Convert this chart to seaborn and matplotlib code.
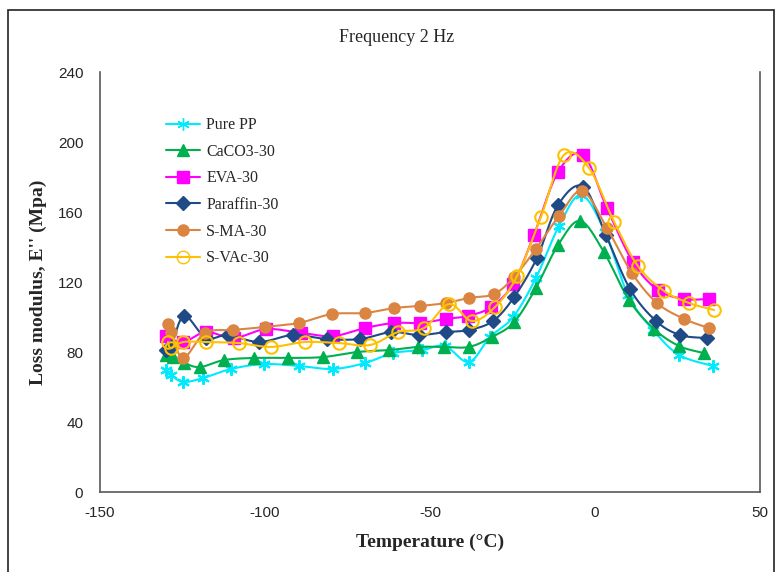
import numpy as np
import pandas as pd
import matplotlib
matplotlib.use("Agg")
import matplotlib.pyplot as plt
import seaborn as sns
from matplotlib.patches import Rectangle
from matplotlib.lines import Line2D

# ---- data ----
pp_T = [-130, -128.5, -124.8, -118.8, -110.3, -100.3, -89.7, -79.4, -69.7, -61.2, -52.4, -45.5, -38.2, -31.8, -24.8, -17.9, -10.9, -4.2, 3.0, 10.0, 17.6, 25.5, 35.8]
pp_E = [69.7, 66.9, 62.9, 65.1, 70.3, 73.1, 72.0, 70.3, 73.7, 79.4, 81.1, 83.4, 74.3, 88.6, 100.0, 122.3, 152.0, 169.7, 148.6, 112.6, 92.6, 78.3, 72.0]

caco3_T = [-130, -127.9, -124.5, -119.7, -112.4, -103.3, -93.0, -82.4, -72.1, -62.4, -53.6, -45.8, -38.2, -31.2, -24.5, -17.9, -11.2, -4.5, 2.7, 10.3, 17.9, 25.5, 33.0]
caco3_E = [78.3, 77.1, 73.7, 71.4, 75.4, 76.6, 76.6, 77.1, 80.0, 81.1, 82.9, 82.9, 82.9, 88.6, 97.1, 116.6, 141.1, 154.9, 137.1, 109.7, 93.1, 83.4, 79.4]

eva_T = [-130, -124.8, -117.9, -109.4, -99.7, -89.1, -79.4, -69.7, -60.9, -53.0, -45.2, -38.5, -31.5, -24.8, -18.5, -11.2, -3.6, 3.6, 11.5, 19.1, 27.0, 34.5]
eva_E = [89.1, 85.7, 91.4, 88.0, 93.1, 90.9, 89.1, 93.7, 96.6, 96.6, 98.9, 100.6, 105.7, 118.9, 146.9, 182.9, 192.6, 162.3, 131.4, 115.4, 110.3, 110.3]

par_T = [-130, -128.5, -124.5, -117.9, -111.2, -101.8, -91.5, -81.2, -71.2, -61.8, -53.3, -45.2, -38.2, -30.9, -24.5, -17.6, -11.2, -3.6, 3.3, 10.6, 18.5, 25.8, 33.9]
par_E = [81.1, 82.9, 100.6, 88.0, 89.7, 85.7, 89.7, 87.4, 87.4, 91.4, 89.7, 91.4, 92.6, 97.7, 111.4, 133.7, 164.0, 174.5, 146.9, 116.0, 97.7, 89.7, 88.0]

sma_T = [-129.4, -128.5, -124.8, -118.2, -109.7, -100.0, -89.7, -79.7, -69.7, -60.9, -53.0, -45.2, -38.2, -30.6, -24.5, -17.9, -10.9, -3.9, 3.6, 11.2, 18.8, 27.0, 34.5]
sma_E = [96.0, 91.4, 76.6, 90.9, 92.6, 94.3, 96.6, 101.7, 102.3, 105.1, 106.3, 108.0, 110.9, 113.1, 122.9, 138.9, 157.7, 172.0, 150.9, 125.1, 108.0, 98.9, 93.7]

svac_T = [-129.4, -128.5, -124.8, -117.9, -107.9, -98.2, -87.9, -77.6, -68.2, -59.7, -51.8, -44.2, -37.3, -30.3, -23.6, -16.4, -9.4, -1.8, 5.8, 13.0, 20.9, 28.5, 36.1]
svac_E = [85.7, 82.3, 85.7, 85.7, 85.1, 82.9, 85.7, 85.1, 84.0, 91.4, 93.7, 107.4, 97.7, 105.7, 123.4, 157.1, 192.6, 185.1, 154.3, 129.1, 114.9, 108.0, 104.0]

labels = ["Pure PP", "CaCO3-30", "EVA-30", "Paraffin-30", "S-MA-30", "S-VAc-30"]
series = [(pp_T, pp_E), (caco3_T, caco3_E), (eva_T, eva_E), (par_T, par_E), (sma_T, sma_E), (svac_T, svac_E)]

x_ticks = [-150, -100, -50, 0, 50]
y_ticks = [0, 40, 80, 120, 160, 200, 240]

colors = ["#00EAFF", "#00B050", "#FF00FF", "#1F4A85", "#DA8542", "#FFC000"]
markers = [(6, 2, 0), "^", "s", "D", "o", "o"]
msizes = [9, 9, 9, 7, 8, 9]
mface = ["#00EAFF", "#00B050", "#FF00FF", "#1F4A85", "#DA8542", "none"]


def smooth(x, y, n=16):
    """Bezier smoothing of the line path between the data points (Excel-like smoothed line)."""
    x = np.asarray(x, float); y = np.asarray(y, float)
    P = np.column_stack([x, y])
    P = np.vstack([P[0], P, P[-1]])
    out = []
    for i in range(1, len(P) - 2):
        p0, p1, p2, p3 = P[i - 1], P[i], P[i + 1], P[i + 2]
        t = np.linspace(0, 1, n, endpoint=False)[:, None]
        c1 = p1 + (p2 - p0) / 6.0
        c2 = p2 - (p3 - p1) / 6.0
        seg = ((1 - t) ** 3) * p1 + 3 * ((1 - t) ** 2) * t * c1 + 3 * (1 - t) * t ** 2 * c2 + t ** 3 * p2
        out.append(seg)
    out.append(P[-2][None, :])
    out = np.vstack(out)
    return out[:, 0], out[:, 1]


sns.set_style("white")
plt.rcParams["font.family"] = ["Liberation Serif", "DejaVu Serif"]

fig = plt.figure(figsize=(7.77, 5.72), dpi=100)
ax = fig.add_axes([100 / 777, 1 - 492 / 572, 660 / 777, 420 / 572])

for (T, E), lab, c, m, ms, mf in zip(series, labels, colors, markers, msizes, mface):
    sx, sy = smooth(T, E)
    dense = pd.DataFrame({"T": sx, "E": sy})
    sns.lineplot(data=dense, x="T", y="E", ax=ax, color=c, lw=1.5, sort=False,
                 estimator=None, legend=False)
    pts = pd.DataFrame({"T": T, "E": E})
    ax.plot(pts["T"], pts["E"], ls="none", marker=m, ms=ms, color=c,
            markerfacecolor=mf, markeredgecolor=c, mew=1.5 if mf == "none" or m == (6, 2, 0) else 1)

ax.set_xlim(-150, 50)
ax.set_ylim(0, 240)
ax.set_xticks(x_ticks)
ax.set_yticks(y_ticks)
ax.set_xticklabels([str(v) for v in x_ticks], family="Liberation Sans", fontsize=11)
ax.set_yticklabels([str(v) for v in y_ticks], family="Liberation Sans", fontsize=11)
ax.tick_params(axis="x", length=0, pad=10)
ax.tick_params(axis="y", length=0, pad=12)
for s in ["left", "bottom", "right"]:
    ax.spines[s].set_visible(True)
    ax.spines[s].set_color("#595959")
    ax.spines[s].set_linewidth(1.2)
ax.spines["top"].set_visible(False)

ax.set_xlabel("Temperature (°C)", fontsize=14, fontweight="bold", labelpad=10)
ax.set_ylabel("Loss modulus, E'' (Mpa)", fontsize=14, fontweight="bold", labelpad=8)

fig.text(397 / 777, 1 - 37 / 572, "Frequency 2 Hz", ha="center", va="center", fontsize=13)

handles = [Line2D([0], [0], color=c, lw=1.5, marker=m, ms=ms, markerfacecolor=mf,
                  markeredgecolor=c) for c, m, ms, mf in zip(colors, markers, msizes, mface)]
leg = ax.legend(handles, labels, loc="upper left", bbox_to_anchor=(60 / 660, 1 - 39 / 420),
                frameon=False, fontsize=11.5, handlelength=2.1, labelspacing=0.66,
                handletextpad=0.4, borderaxespad=0)

fig.patches.append(Rectangle((8 / 777, -0.02), 766 / 777, 1 - 10 / 572 + 0.02,
                             transform=fig.transFigure, fill=False, edgecolor="#222222", lw=1.2))

fig.savefig("out.png", dpi=100)
